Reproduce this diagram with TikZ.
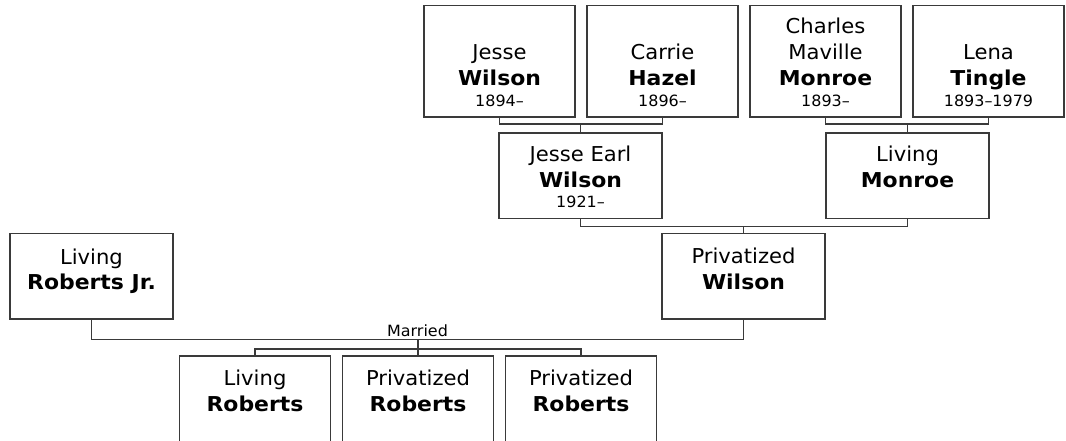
\documentclass[tikz,border=0pt]{standalone}
\usepackage{fontspec}
\setmainfont{DejaVu Sans}[UprightFeatures={FakeStretch=1.03},BoldFeatures={FakeStretch=1.07}]
\usetikzlibrary{calc}
\definecolor{linec}{HTML}{3A3A3A}
\begin{document}
\begin{tikzpicture}[x=1pt,y=-1pt,
  pbox/.style={draw=linec,line width=1.6pt,fill=white,inner sep=0pt,outer sep=0pt,anchor=north west},
  topbox/.style={pbox,minimum width=151pt,minimum height=111.5pt},
  midbox/.style={pbox,minimum width=163pt,minimum height=85.5pt},
  kidbox/.style={pbox,minimum width=151pt,minimum height=86pt},
  tnorm/.style={anchor=base,inner sep=0pt,font=\fontsize{20.5}{24}\selectfont},
  tbold/.style={anchor=base,inner sep=0pt,font=\fontsize{20.5}{24}\selectfont\bfseries},
  tdate/.style={anchor=base,inner sep=0pt,font=\fontsize{15.5}{18}\selectfont},
  link/.style={draw=linec,line width=1.6pt}]
\clip (0,0) rectangle (1066,441);
\fill[white] (0,0) rectangle (1066,441);

% top row
\node[topbox] (jw) at (424,5.5) {};
\node[topbox] (ch) at (587,5.5) {};
\node[topbox] (cm) at (750,5.5) {};
\node[topbox] (lt) at (913,5.5) {};
% middle
\node[midbox] (jew) at (499,133) {};
\node[midbox] (lm) at (826,133) {};
\node[midbox] (pw) at (662,233.5) {};
\node[midbox] (lrj) at (10,233.5) {};
% children
\node[kidbox] (c1) at (179.5,356) {};
\node[kidbox] (c2) at (342.5,356) {};
\node[kidbox] (c3) at (505.5,356) {};

% texts top row
\node[tnorm] (jw1) at ($(jw.north)+(0,54.5)$) {Jesse};
\node[tbold] (jw2) at ($(jw.north)+(0,80.5)$) {Wilson};
\node[tdate] (jw3) at ($(jw.north)+(0,101.5)$) {1894–};
\node[tnorm] (ch1) at ($(ch.north)+(0,54.5)$) {Carrie};
\node[tbold] (ch2) at ($(ch.north)+(0,80.5)$) {Hazel};
\node[tdate] (ch3) at ($(ch.north)+(0,101.5)$) {1896–};
\node[tnorm] (cm0) at ($(cm.north)+(0,28)$) {Charles};
\node[tnorm] (cm1) at ($(cm.north)+(0,54.5)$) {Maville};
\node[tbold] (cm2) at ($(cm.north)+(0,80.5)$) {Monroe};
\node[tdate] (cm3) at ($(cm.north)+(0,101.5)$) {1893–};
\node[tnorm] (lt1) at ($(lt.north)+(0,54.5)$) {Lena};
\node[tbold] (lt2) at ($(lt.north)+(0,80.5)$) {Tingle};
\node[tdate] (lt3) at ($(lt.north)+(0,101.5)$) {1893–1979};
% texts middle
\node[tnorm] (jew1) at ($(jew.north)+(0,29)$) {Jesse Earl};
\node[tbold] (jew2) at ($(jew.north)+(0,55)$) {Wilson};
\node[tdate] (jew3) at ($(jew.north)+(0,74.5)$) {1921–};
\node[tnorm] (lm1) at ($(lm.north)+(0,29)$) {Living};
\node[tbold] (lm2) at ($(lm.north)+(0,55)$) {Monroe};
\node[tnorm] (pw1) at ($(pw.north)+(0,30)$) {Privatized};
\node[tbold] (pw2) at ($(pw.north)+(0,55.5)$) {Wilson};
\node[tnorm] (lrj1) at ($(lrj.north)+(0,30.5)$) {Living};
\node[tbold] (lrj2) at ($(lrj.north)+(0,55.5)$) {Roberts Jr.};
% texts children
\node[tnorm] (c1a) at ($(c1.north)+(0,29)$) {Living};
\node[tbold] (c1b) at ($(c1.north)+(0,55)$) {Roberts};
\node[tnorm] (c2a) at ($(c2.north)+(0,29)$) {Privatized};
\node[tbold] (c2b) at ($(c2.north)+(0,55)$) {Roberts};
\node[tnorm] (c3a) at ($(c3.north)+(0,29)$) {Privatized};
\node[tbold] (c3b) at ($(c3.north)+(0,55)$) {Roberts};

% connectors
\draw[link] (jw.south) -- ++(0,7) -| (ch.south);
\draw[link] (jew.north) -- ++(0,-9);
\draw[link] (cm.south) -- ++(0,7) -| (lt.south);
\draw[link] (lm.north) -- ++(0,-9);
\draw[link] (jew.south) -- ++(0,8) -| (lm.south);
\draw[link] (pw.north) -- ++(0,-7.5);
\draw[link] (lrj.south) -- ++(0,20.5) -| (pw.south);
\node[tdate] (married) at (417.5,336) {Married};
\draw[link] (c2.north) -- ++(0,-16);
\draw[link] (c1.north) -- ++(0,-7) -| (c3.north);
\end{tikzpicture}
\end{document}
